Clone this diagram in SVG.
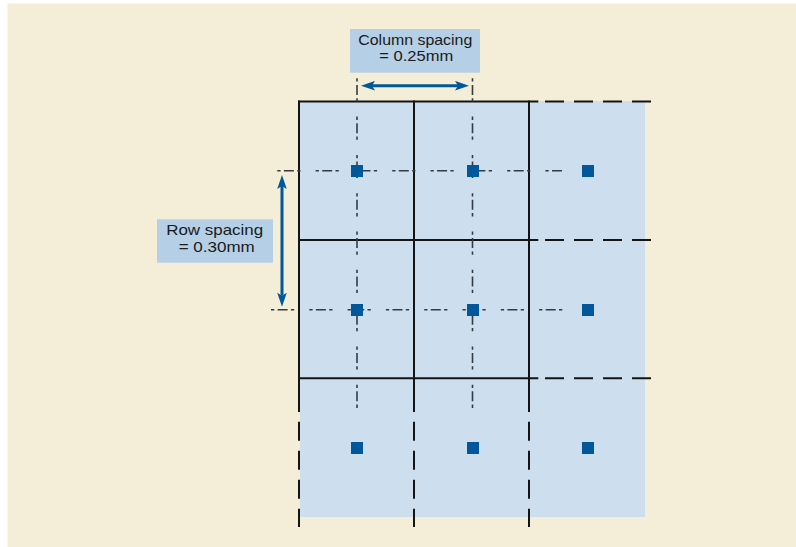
<svg xmlns="http://www.w3.org/2000/svg" width="796" height="547" viewBox="0 0 796 547">
  <defs>
    <style>
      .grid{stroke:#141414;stroke-width:2;fill:none}
      .gdash{stroke:#141414;stroke-width:2;fill:none;stroke-dasharray:19 10}
      .cl{stroke:#363b42;stroke-width:1.6;fill:none;stroke-dasharray:3.3 3.3 10 3.3 3.3 15.1}
      .px{fill:#00589a}
      .lbl{fill:#b4cfe6}
      .txt{font-family:"Liberation Sans",Arial,Helvetica,sans-serif;font-size:14.5px;fill:#1a1a1a;text-anchor:middle}
      .dim{stroke:#00589a;stroke-width:3;fill:none}
    </style>
    <marker id="ah" viewBox="-15 -5 16 10" markerWidth="16" markerHeight="10" refX="-11" refY="0" orient="auto-start-reverse" markerUnits="userSpaceOnUse">
      <path d="M0,0 L-14,-4.8 L-11,0 L-14,4.8 Z" fill="#00589a"/>
    </marker>
  </defs>

  <rect x="7.5" y="3.5" width="796" height="547" fill="#f4edd7"/>

  <g id="panel">
    <rect x="300" y="101" width="345" height="416" fill="#cddeef"/>
  </g>

  <g id="grid">
    <line class="grid" x1="298" y1="101.5" x2="538.3" y2="101.5"/>
    <line class="grid" x1="298" y1="240" x2="538.3" y2="240"/>
    <line class="grid" x1="298" y1="378.3" x2="538.3" y2="378.3"/>
    <line class="gdash" x1="545" y1="101.5" x2="651" y2="101.5"/>
    <line class="gdash" x1="545" y1="240" x2="651" y2="240"/>
    <line class="gdash" x1="545" y1="378.3" x2="651" y2="378.3"/>
    <line class="grid" x1="299" y1="100.5" x2="299" y2="412"/>
    <line class="grid" x1="414" y1="100.5" x2="414" y2="412"/>
    <line class="grid" x1="529" y1="100.5" x2="529" y2="412"/>
    <line class="gdash" x1="299" y1="421.7" x2="299" y2="527"/>
    <line class="gdash" x1="414" y1="421.7" x2="414" y2="527"/>
    <line class="gdash" x1="529" y1="421.7" x2="529" y2="527"/>
  </g>

  <g id="connectors">
    <line class="cl" x1="357" y1="78.3" x2="357" y2="408.5"/>
    <line class="cl" x1="472.5" y1="78.3" x2="472.5" y2="408.5"/>
    <line class="cl" x1="277.3" y1="170.7" x2="562" y2="170.7"/>
    <line class="cl" x1="271" y1="309.7" x2="562.3" y2="309.7"/>
    <line id="col-dim" class="dim" x1="372" y1="85.7" x2="458" y2="85.7" marker-start="url(#ah)" marker-end="url(#ah)"/>
    <line id="row-dim" class="dim" x1="282" y1="186" x2="282" y2="295.7" marker-start="url(#ah)" marker-end="url(#ah)"/>
  </g>

  <g id="px-1-1"><rect class="px" x="351" y="165" width="12" height="12"/></g>
  <g id="px-1-2"><rect class="px" x="467" y="165" width="12" height="12"/></g>
  <g id="px-1-3"><rect class="px" x="582" y="165" width="12" height="12"/></g>
  <g id="px-2-1"><rect class="px" x="351" y="304" width="12" height="12"/></g>
  <g id="px-2-2"><rect class="px" x="467" y="304" width="12" height="12"/></g>
  <g id="px-2-3"><rect class="px" x="582" y="304" width="12" height="12"/></g>
  <g id="px-3-1"><rect class="px" x="351" y="442" width="12" height="12"/></g>
  <g id="px-3-2"><rect class="px" x="467" y="442" width="12" height="12"/></g>
  <g id="px-3-3"><rect class="px" x="582" y="442" width="12" height="12"/></g>

  <g id="label-column">
    <rect class="lbl" x="350" y="29" width="130" height="43.7"/>
    <text class="txt"><tspan x="415.3" y="44.5" textLength="114" lengthAdjust="spacingAndGlyphs">Column spacing</tspan><tspan x="416.3" y="61" textLength="74" lengthAdjust="spacingAndGlyphs">= 0.25mm</tspan></text>
  </g>

  <g id="label-row">
    <rect class="lbl" x="157" y="219.3" width="116" height="43.4"/>
    <text class="txt"><tspan x="214.7" y="235" textLength="97" lengthAdjust="spacingAndGlyphs">Row spacing</tspan><tspan x="216.7" y="251.5" textLength="76" lengthAdjust="spacingAndGlyphs">= 0.30mm</tspan></text>
  </g>
</svg>
